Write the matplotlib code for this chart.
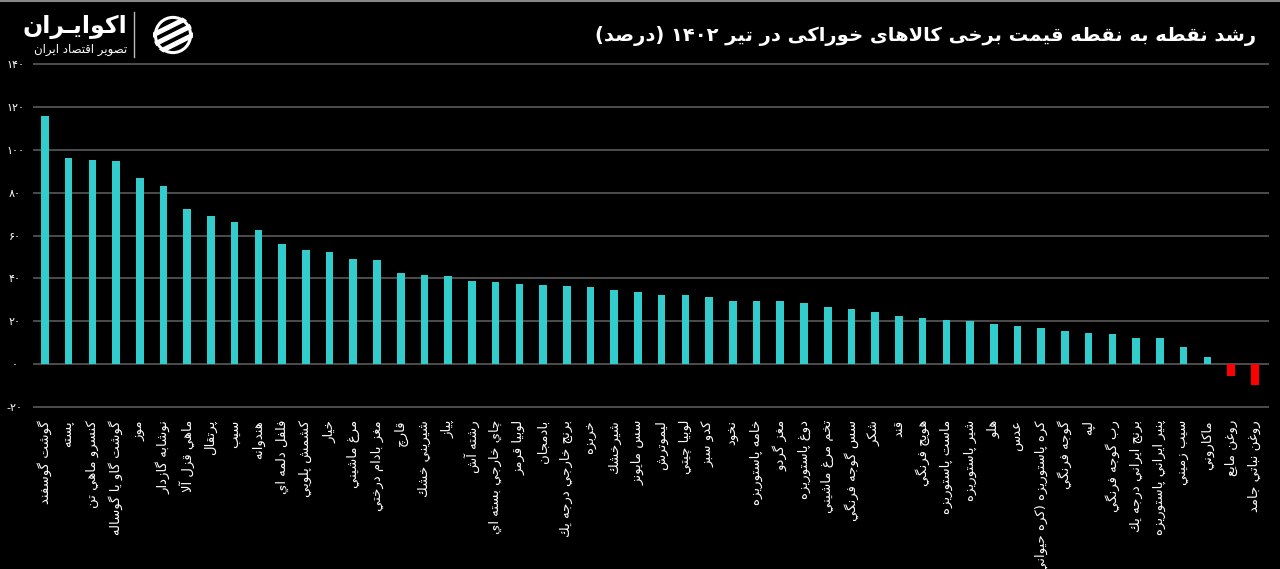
import re
import numpy as np
import matplotlib
matplotlib.use("Agg")
import matplotlib.pyplot as plt
from matplotlib.lines import Line2D
from matplotlib.patches import Circle

plt.rcParams["font.family"] = ["DejaVu Sans"]

# growth of food prices, Tir 1402 (percent)
items = [
    "گوشت گوسفند", "پسته", "کنسرو ماهي تن", "گوشت گاو يا گوساله", "موز",
    "نوشابه گازدار", "ماهي قزل آلا", "پرتقال", "سيب", "هندوانه",
    "فلفل دلمه اي", "کشمش پلويي", "خيار", "مرغ ماشيني", "مغز بادام درختي",
    "قارچ", "شيريني خشك", "پياز", "رشته آش", "چاي خارجي بسته اي",
    "لوبيا قرمز", "بادمجان", "برنج خارجي درجه يك", "خربزه", "شيرخشك",
    "سس مايونز", "ليموترش", "لوبيا چيتي", "کدو سبز", "نخود",
    "خامه پاستوريزه", "مغز گردو", "دوغ پاستوريزه", "تخم مرغ ماشيني", "سس گوجه فرنگي",
    "شکر", "قند", "هويج فرنگي", "ماست پاستوريزه", "شير پاستوريزه",
    "هلو", "عدس", "کره پاستوريزه (کره حيواني)", "گوجه فرنگي", "لپه",
    "رب گوجه فرنگي", "برنج ايراني درجه يك", "پنير ايراني پاستوريزه", "سيب زميني", "ماکاروني",
    "روغن مايع", "روغن نباتي جامد",
]
growth = [
    115.9, 96.3, 95.2, 94.6, 86.9,
    82.9, 72.6, 68.9, 66.1, 62.6,
    55.8, 53.3, 52.2, 48.8, 48.5,
    42.7, 41.6, 41.3, 38.8, 38.5,
    37.2, 36.9, 36.2, 35.8, 34.6,
    33.8, 32.1, 32.0, 31.2, 29.6,
    29.6, 29.2, 28.5, 26.8, 25.7,
    24.3, 22.6, 21.5, 20.7, 20.2,
    18.6, 17.8, 16.8, 15.6, 14.7,
    14.2, 12.0, 12.0, 7.9, 3.1,
    -5.4, -10.0,
]
yticks = [-20, 0, 20, 40, 60, 80, 100, 120, 140]
ytick_labels = ["-۲۰", "۰", "۲۰", "۴۰", "۶۰", "۸۰", "۱۰۰", "۱۲۰", "۱۴۰"]

title = "رشد نقطه به نقطه قیمت برخی کالاهای خوراکی در تیر ۱۴۰۲ (درصد)"

# --- minimal arabic shaping (matplotlib has no bidi / joining) ---
FORMS = {
    "ء": (0xFE80,), "آ": (0xFE81, 0xFE82), "أ": (0xFE83, 0xFE84), "ؤ": (0xFE85, 0xFE86),
    "إ": (0xFE87, 0xFE88), "ئ": (0xFE89, 0xFE8A, 0xFE8B, 0xFE8C), "ا": (0xFE8D, 0xFE8E),
    "ب": (0xFE8F, 0xFE90, 0xFE91, 0xFE92), "ة": (0xFE93, 0xFE94),
    "ت": (0xFE95, 0xFE96, 0xFE97, 0xFE98), "ث": (0xFE99, 0xFE9A, 0xFE9B, 0xFE9C),
    "ج": (0xFE9D, 0xFE9E, 0xFE9F, 0xFEA0), "ح": (0xFEA1, 0xFEA2, 0xFEA3, 0xFEA4),
    "خ": (0xFEA5, 0xFEA6, 0xFEA7, 0xFEA8), "د": (0xFEA9, 0xFEAA), "ذ": (0xFEAB, 0xFEAC),
    "ر": (0xFEAD, 0xFEAE), "ز": (0xFEAF, 0xFEB0),
    "س": (0xFEB1, 0xFEB2, 0xFEB3, 0xFEB4), "ش": (0xFEB5, 0xFEB6, 0xFEB7, 0xFEB8),
    "ص": (0xFEB9, 0xFEBA, 0xFEBB, 0xFEBC), "ض": (0xFEBD, 0xFEBE, 0xFEBF, 0xFEC0),
    "ط": (0xFEC1, 0xFEC2, 0xFEC3, 0xFEC4), "ظ": (0xFEC5, 0xFEC6, 0xFEC7, 0xFEC8),
    "ع": (0xFEC9, 0xFECA, 0xFECB, 0xFECC), "غ": (0xFECD, 0xFECE, 0xFECF, 0xFED0),
    "ف": (0xFED1, 0xFED2, 0xFED3, 0xFED4), "ق": (0xFED5, 0xFED6, 0xFED7, 0xFED8),
    "ك": (0xFED9, 0xFEDA, 0xFEDB, 0xFEDC), "ل": (0xFEDD, 0xFEDE, 0xFEDF, 0xFEE0),
    "م": (0xFEE1, 0xFEE2, 0xFEE3, 0xFEE4), "ن": (0xFEE5, 0xFEE6, 0xFEE7, 0xFEE8),
    "ه": (0xFEE9, 0xFEEA, 0xFEEB, 0xFEEC), "و": (0xFEED, 0xFEEE), "ى": (0xFEEF, 0xFEF0),
    "ي": (0xFEF1, 0xFEF2, 0xFEF3, 0xFEF4),
    "پ": (0xFB56, 0xFB57, 0xFB58, 0xFB59), "چ": (0xFB7A, 0xFB7B, 0xFB7C, 0xFB7D),
    "ژ": (0xFB8A, 0xFB8B), "ک": (0xFB8E, 0xFB8F, 0xFB90, 0xFB91),
    "گ": (0xFB92, 0xFB93, 0xFB94, 0xFB95), "ی": (0xFBFC, 0xFBFD, 0xFBFE, 0xFBFF),
}
LAM_ALEF = {"ا": (0xFEFB, 0xFEFC), "آ": (0xFEF5, 0xFEF6), "أ": (0xFEF7, 0xFEF8), "إ": (0xFEF9, 0xFEFA)}
TATWEEL = "ـ"


def dual(c):
    return c == TATWEEL or (c in FORMS and len(FORMS[c]) == 4)


def joins(c):
    return c == TATWEEL or c in FORMS


def shape(s):
    out = []
    i = 0
    while i < len(s):
        c = s[i]
        prev = s[i - 1] if i > 0 else ""
        link_prev = bool(prev) and dual(prev) and joins(c)
        if c == "ل" and i + 1 < len(s) and s[i + 1] in LAM_ALEF:
            iso, fin = LAM_ALEF[s[i + 1]]
            out.append(chr(fin if link_prev else iso))
            i += 2
            continue
        if c in FORMS:
            f = FORMS[c]
            nxt = s[i + 1] if i + 1 < len(s) else ""
            link_next = len(f) == 4 and bool(nxt) and joins(nxt)
            if len(f) == 1:
                out.append(chr(f[0]))
            elif link_prev and link_next:
                out.append(chr(f[3]))
            elif link_prev:
                out.append(chr(f[1]))
            elif link_next:
                out.append(chr(f[2]))
            else:
                out.append(chr(f[0]))
        else:
            out.append(c)
        i += 1
    return "".join(out)


MIRROR = str.maketrans("()", ")(")


def fa(s):
    s = shape(s)
    tokens = re.findall(r"[0-9۰-۹]+|[^0-9۰-۹]+", s)
    out = []
    for t in reversed(tokens):
        if t[0] in "0123456789۰۱۲۳۴۵۶۷۸۹":
            out.append(t)
        else:
            out.append(t[::-1].translate(MIRROR))
    return "".join(out)


BG = "#000000"
CYAN = "#33CCCC"
RED = "#FF0000"
GRID = "#5a5a5a"

fig = plt.figure(figsize=(12.8, 5.69), dpi=100, facecolor=BG)
ax = fig.add_axes([33 / 1280, 1 - 409 / 569, (1269 - 33) / 1280, (409 - 62) / 569])
ax.set_facecolor(BG)

x = np.arange(len(items))
colors = [CYAN if v >= 0 else RED for v in growth]
ax.bar(x, growth, width=0.32, color=colors, zorder=3)

ax.set_xlim(-0.5, len(items) - 0.4)
ax.set_ylim(-21, 141)
ax.set_yticks(yticks)
ax.set_yticklabels(ytick_labels, color="white", fontsize=8)
ax.set_xticks(x)
ax.set_xticklabels([fa(t) for t in items], rotation=90, color="white", fontsize=9.5)
ax.tick_params(axis="both", length=0)
ax.tick_params(axis="x", pad=8)
ax.tick_params(axis="y", pad=13)
for lbl in ax.get_yticklabels():
    lbl.set_horizontalalignment("center")

ax.grid(True, axis="y", color=GRID, linewidth=1.2, zorder=0)
for s in ax.spines.values():
    s.set_visible(False)

# title
fig.text(1256 / 1280, 1 - 36 / 569, fa(title), color="white", fontsize=14,
         fontweight="bold", ha="right", va="center")

# logo
fig.text(127 / 1280, 1 - 27 / 569, fa("اکوایـران"), color="white", fontsize=17,
         fontweight="bold", ha="right", va="center")
fig.text(127 / 1280, 1 - 50 / 569, fa("تصویر اقتصاد ایران"), color="white",
         fontsize=8.5, ha="right", va="center")
fig.add_artist(Line2D([134 / 1280, 134 / 1280], [1 - 12 / 569, 1 - 57 / 569],
                      color="#bbbbbb", linewidth=1, transform=fig.transFigure))

icon = fig.add_axes([150 / 1280, 1 - 58 / 569, 46 / 1280, 46 / 569])
icon.set_xlim(-1.15, 1.15)
icon.set_ylim(-1.15, 1.15)
icon.set_aspect("equal")
icon.axis("off")
clip = Circle((0, 0), 1.0, transform=icon.transData)
ring = Circle((0, 0), 0.88, fill=False, edgecolor="white", linewidth=2.2)
icon.add_patch(ring)
ring.set_clip_path(clip)
for off in (-0.5, 0.0, 0.5):
    ln, = icon.plot([-1.4, 1.4], [-0.7 + off, 0.7 + off], color="white", linewidth=3.6,
                    solid_capstyle="round")
    ln.set_clip_path(clip)

# thin frame line at the top
fig.add_artist(Line2D([0, 1], [0.999, 0.999], color="#888888", linewidth=1.5,
                      transform=fig.transFigure))

fig.savefig("out.png", dpi=100, facecolor=BG)
